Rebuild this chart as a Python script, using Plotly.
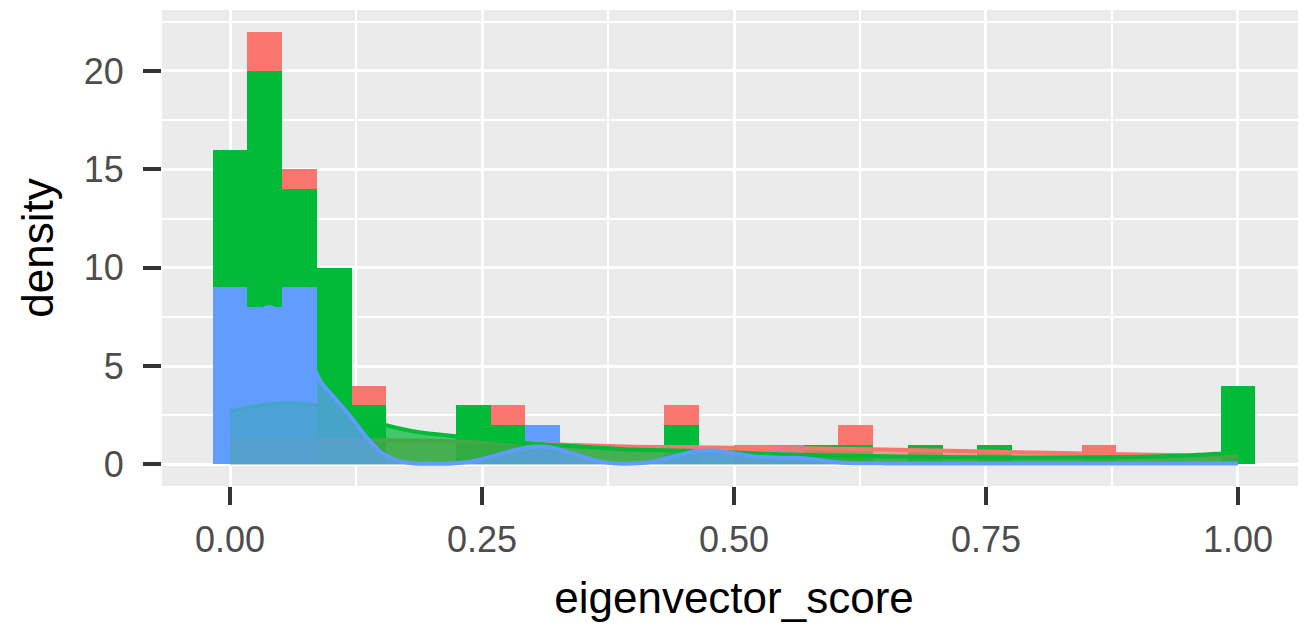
import plotly.graph_objects as go

# ---- data ----
bin_centers = [k / 29 for k in range(30)]
bin_width = 1 / 29
blue_bars = [9, 8, 9, 0, 0, 0, 0, 0, 0, 2, 0, 0, 0, 1, 0, 0, 1, 0, 0, 0, 0, 0, 0, 0, 0, 0, 0, 0, 0, 0]
green_bars = [7, 12, 5, 10, 3, 0, 0, 3, 2, 0, 0, 0, 0, 1, 0, 0, 0, 1, 1, 0, 1, 0, 1, 0, 0, 0, 0, 0, 0, 4]
red_bars = [0, 2, 1, 0, 1, 0, 0, 0, 1, 0, 0, 0, 0, 1, 0, 1, 0, 0, 1, 0, 0, 0, 0, 0, 0, 1, 0, 0, 0, 0]

red_dens_x = [0, 0.1, 0.2, 0.3, 0.4, 0.5, 0.6, 0.7, 0.8, 0.9, 1.0]
red_dens_y = [1.25, 1.25, 1.2, 1.05, 0.9, 0.85, 0.8, 0.7, 0.6, 0.5, 0.42]

green_dens_x = [0, 0.03, 0.06, 0.09, 0.12, 0.15, 0.18, 0.21, 0.25, 0.3, 0.35, 0.4, 0.45, 0.5,
                0.55, 0.6, 0.7, 0.8, 0.9, 0.95, 1.0]
green_dens_y = [2.7, 3.0, 3.1, 2.95, 2.55, 2.05, 1.7, 1.5, 1.3, 1.05, 0.9, 0.75, 0.7, 0.6,
                0.5, 0.45, 0.38, 0.35, 0.38, 0.45, 0.6]

blue_dens_x = [0, 0.02, 0.04, 0.06, 0.075, 0.09, 0.105, 0.12, 0.135, 0.15, 0.165, 0.18, 0.2, 0.22,
               0.24, 0.26, 0.28, 0.3, 0.32, 0.34, 0.36, 0.38, 0.4, 0.42, 0.44, 0.46, 0.48, 0.5,
               0.52, 0.54, 0.56, 0.58, 0.6, 0.62, 0.65, 0.7, 0.8, 0.9, 1.0]
blue_dens_y = [6.5, 7.6, 8.0, 7.2, 5.8, 4.2, 3.3, 2.4, 1.4, 0.6, 0.2, 0.06, 0.03, 0.05,
               0.15, 0.4, 0.7, 0.9, 0.85, 0.55, 0.22, 0.05, 0.05, 0.15, 0.4, 0.65, 0.7, 0.55,
               0.4, 0.35, 0.33, 0.25, 0.12, 0.06, 0.05, 0.05, 0.05, 0.05, 0.05]

x_tickvals = [0, 0.25, 0.5, 0.75, 1.0]
x_ticktext = ["0.00", "0.25", "0.50", "0.75", "1.00"]
y_tickvals = [0, 5, 10, 15, 20]
y_ticktext = ["0", "5", "10", "15", "20"]

RED, GREEN, BLUE = "#F8766D", "#00BA38", "#619CFF"
ALPHA = 0.72


def rgba(hexc, a):
    h = hexc.lstrip("#")
    return f"rgba({int(h[0:2],16)},{int(h[2:4],16)},{int(h[4:6],16)},{a})"


fig = go.Figure()
for vals, col in [(blue_bars, BLUE), (green_bars, GREEN), (red_bars, RED)]:
    fig.add_trace(go.Bar(x=bin_centers, y=vals, width=bin_width, marker=dict(color=col, line=dict(width=0)),
                         showlegend=False, hoverinfo="skip"))

for xs, ys, col in [(red_dens_x, red_dens_y, RED), (green_dens_x, green_dens_y, GREEN),
                    (blue_dens_x, blue_dens_y, BLUE)]:
    fig.add_trace(go.Scatter(x=xs, y=ys, mode="lines", line=dict(color=col, width=4, shape="spline", smoothing=0.6),
                             fill="tozeroy", fillcolor=rgba(col, ALPHA), showlegend=False, hoverinfo="skip"))

# the page body has an 8px default margin, so the figure is offset by 8px
FONT = "Liberation Sans, Arial, sans-serif"
fig.update_layout(
    barmode="stack",
    bargap=0,
    width=1298, height=625,
    margin=dict(l=154, r=0, t=2, b=147, autoexpand=False),
    paper_bgcolor="white",
    plot_bgcolor="#EBEBEB",
    font=dict(family=FONT, color="#4D4D4D"),
    xaxis=dict(
        range=[-0.0675, 1.0675], tickvals=x_tickvals, ticktext=x_ticktext, automargin=False,
        showgrid=True, gridcolor="white", gridwidth=3.4, zeroline=False,
        minor=dict(tickvals=[0.125, 0.375, 0.625, 0.875], showgrid=True, gridcolor="white", gridwidth=1.7, ticklen=0),
        ticks="outside", ticklen=18, tickwidth=4, tickcolor="#333333",
        tickfont=dict(size=36, color="#4D4D4D", family=FONT),
        ticklabelstandoff=4,
        title=dict(text="eigenvector_score", font=dict(size=44, color="black", family=FONT), standoff=22),
        showline=False,
    ),
    yaxis=dict(
        range=[-1.1, 23.1], tickvals=y_tickvals, ticktext=y_ticktext, automargin=False,
        showgrid=True, gridcolor="white", gridwidth=3.4, zeroline=False,
        minor=dict(tickvals=[2.5, 7.5, 12.5, 17.5, 22.5], showgrid=True, gridcolor="white", gridwidth=1.7, ticklen=0),
        ticks="outside", ticklen=18, tickwidth=4, tickcolor="#333333",
        tickfont=dict(size=36, color="#4D4D4D", family=FONT),
        ticklabelstandoff=12,
        title=dict(text="density", font=dict(size=44, color="black", family=FONT), standoff=16),
        showline=False,
    ),
)

fig.write_html("out.html")
